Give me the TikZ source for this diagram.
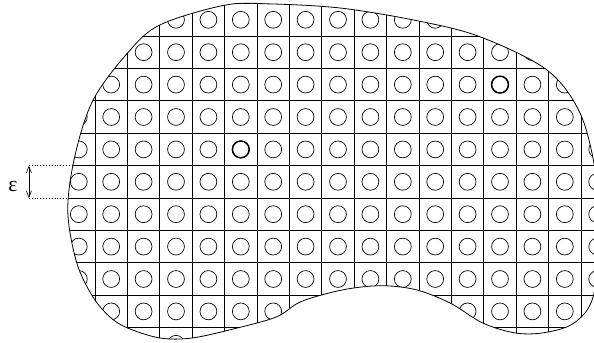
\documentclass[tikz,border=0pt]{standalone}
\usepackage{fontspec}
\newfontfamily\greekfont{Liberation Serif}
\usetikzlibrary{arrows.meta}

\begin{document}
\begin{tikzpicture}[
  cellline/.style={line width=0.6pt},
  hole/.style={line width=0.6pt},
  markedhole/.style={line width=1.3pt},
  outline/.style={line width=0.7pt}]
\clip (-2.932,-0.475) rectangle (15.401,10.111);
% Perforated domain, grid and holes cut by the boundary
\begin{scope}
\clip plot[smooth cycle, tension=0.55] coordinates {
  (-0.84,3.6) (-0.62,5.3) (-0.06,7.02) (1.0,8.47) (2.0,9.34) (4.0,9.95)
  (5.4,9.99) (7.6,9.86) (10.0,9.46) (11.9,8.97) (13.95,7.95) (14.97,6.62)
  (15.45,4.8) (15.6,3.0) (15.37,0.94) (14.78,0.14) (13.9,-0.15) (13.0,-0.17)
  (11.97,0.14) (10.96,0.76) (9.94,1.16) (9.0,1.29) (8.2,1.25) (7.35,1.1)
  (6.33,0.79) (5.6,0.33) (4.4,-0.01) (3.0,-0.32) (2.0,-0.32) (1.0,-0.01)
  (0.46,0.33) (-0.06,0.94) (-0.56,1.99)};
\draw[cellline] (-1,-1) grid (16,11);
\foreach \i in {-1,...,15}
  \foreach \j in {-1,...,10}
    \draw[hole] (\i+0.5,\j+0.5) circle (0.26);
% two marked holes
\draw[markedhole] (4.5,5.5) circle (0.26);
\draw[markedhole] (12.5,7.5) circle (0.26);
\end{scope}
% Boundary
\draw[outline] plot[smooth cycle, tension=0.55] coordinates {
  (-0.84,3.6) (-0.62,5.3) (-0.06,7.02) (1.0,8.47) (2.0,9.34) (4.0,9.95)
  (5.4,9.99) (7.6,9.86) (10.0,9.46) (11.9,8.97) (13.95,7.95) (14.97,6.62)
  (15.45,4.8) (15.6,3.0) (15.37,0.94) (14.78,0.14) (13.9,-0.15) (13.0,-0.17)
  (11.97,0.14) (10.96,0.76) (9.94,1.16) (9.0,1.29) (8.2,1.25) (7.35,1.1)
  (6.33,0.79) (5.6,0.33) (4.4,-0.01) (3.0,-0.32) (2.0,-0.32) (1.0,-0.01)
  (0.46,0.33) (-0.06,0.94) (-0.56,1.99)};
% Cell size epsilon
\coordinate (epstop) at (-2.04,5);
\coordinate (epsbot) at (-2.04,4);
\coordinate (edgetop) at (-0.68,5);
\coordinate (edgebot) at (-0.83,4);
\draw[dotted, line width=0.5pt] (epstop) -- (edgetop);
\draw[dotted, line width=0.5pt] (epsbot) -- (edgebot);
\draw[line width=0.5pt, {Straight Barb[length=2mm,width=1.6mm]}-{Straight Barb[length=2mm,width=1.6mm]}] (epstop) -- (epsbot);
\node (eps) at (-2.53,4.36) {\greekfont\fontsize{19}{22}\selectfont ε};
\end{tikzpicture}
\end{document}
